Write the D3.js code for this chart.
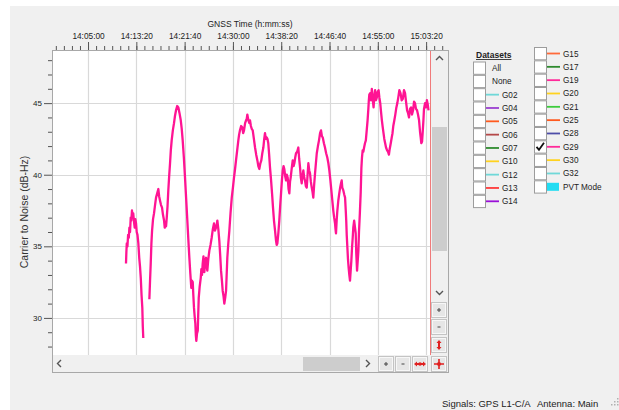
<!DOCTYPE html>
<html><head><meta charset="utf-8">
<script src="https://cdn.jsdelivr.net/npm/d3@7"></script>
<style>
body{margin:0;background:#fff}
svg{display:block}
text{font-family:"Liberation Sans",Arial,sans-serif}
</style>
</head><body>
<svg id="c" width="619" height="410"></svg>
<script>
// ---- data: seconds since 14:00:00 and C/N0 (dB-Hz) of G29 ----
const timeSec = [
  693,697,701,708,715,722,728,735,742,748,755,762,768,776,783,790,797,804,812,821,830,838,846,854,862,867,872,
  900,
  935,942,949,956,963,973,983,994,1004,1016,1028,1036,1045,1055,1066,1076,1087,1094,1100,1108,1115,1123,1131,1140,1149,1157,1166,1178,1190,1200,1211,1223,1235,1247,1260,1270,1280,1292,1304,1316,1328,1339,1349,1359,1369,1376,1384,1390,1397,1404,1411,1416,1421,1428,1436,1441,1446,1456,1467,1473,1480,1487,1495,1504,1513,1522,1528,1535,1545,1556,1568,1580,1592,1604,1614,1625,1632,1639,1649,1659,1668,1677,1686,1694,1703,1711,1720,1729,1742,1752,1763,1775,1788,1800,1811,1822,1832,1844,1856,1864,1873,1885,1897,1906,1915,1926,1936,1943,1949,1960,1970,1977,1986,1995,2005,2017,2029,2041,2053,2063,2073,2084,2094,2104,2115,2124,2132,2141,2150,2158,2166,2175,2184,2195,2205,2215,2225,2236,2246,2253,2260,2270,2280,2289,2298,2307,2316,2324,2332,2341,2350,2358,2367,2376,2384,2391,2398,2408,2419,2428,2436,2445,2453,2465,2477,2486,2495,2503,2512,2520,2529,2538,2546,2555,2564,2573,2581,2590,2598,2607,2616,2624,2632,2641,2650,2659,2668,2680,2691,2702,2712,2721,2730,2742,2753,2765,2777,2788,2798,2809,2819,2829,2839,2848,2857,2862,2867,2874,2881,2891,2901,2910,2919,2926,2932,2943,2953,2961,2968,2973,2978,2985,2991,2998,3005,3012,3019,3026,3033,3040,3046,3055,3064,3071,3077,3085,3092,3099,3105,3114,3123,3130,3136,3143,3150,3158,3167,3176,3185,3194,3202,3207,3212,3221,3230,3238,3247,3256,3264,3272,3281,3290,3299,3308,3316,3325,3333,3342,3351,3359,3367,3376,3385,3396,3406,3415,3423,3434,3444,3452,3460,3471,3481,3492,3502,3512,3523,3535,3547,3559,3571,3582,3592,3603,3613,3623,3633,3644,3654,3665,3675,3685,3695,3706,3716,3727,3737,3744,3750,3758,3765,3772,3778,3789,3799,3808,3817,3825,3833
];
const cn0 = [
  33.8,34.6,35.2,35.0,35.8,35.6,36.3,36.0,37.0,36.8,37.5,37.0,37.3,36.7,36.3,36.9,36.6,36.0,35.8,35.2,34.2,33.6,32.8,31.6,30.7,29.4,28.6,
  null,
  31.3,32.6,33.8,35.2,36.1,36.9,37.3,37.9,38.4,38.7,39.0,38.5,38.2,37.9,37.7,37.2,36.8,36.3,36.5,36.4,37.0,37.8,38.9,39.9,40.8,41.7,42.4,43.1,43.6,44.1,44.5,44.8,44.7,44.3,43.8,43.2,42.4,41.2,39.8,38.3,36.8,35.4,34.2,33.1,32.1,32.6,32.5,31.6,30.7,30.1,29.6,28.8,28.4,28.9,29.1,30.3,31.4,32.2,32.8,33.4,33.0,33.8,34.3,33.2,33.9,34.2,33.6,33.3,34.1,34.7,35.1,35.6,36.2,36.6,36.1,36.3,36.5,36.8,36.2,35.4,34.4,33.3,32.6,31.9,31.5,31.0,31.4,31.9,34.2,35.2,36.1,37.3,38.4,39.1,39.8,40.4,41.0,41.7,42.4,42.8,43.1,43.4,43.3,42.9,43.1,43.6,43.8,43.9,44.2,43.8,43.6,43.8,43.4,43.2,43.1,42.5,41.9,41.4,41.0,40.6,40.4,40.8,41.0,41.5,41.9,42.5,42.9,42.5,42.6,42.5,42.2,41.4,40.5,39.6,38.7,37.7,36.8,36.1,35.4,35.1,35.2,35.9,36.8,37.8,38.7,39.6,40.3,40.6,40.4,39.9,39.6,40.0,39.8,39.0,38.7,39.5,39.8,40.4,41.0,40.6,40.8,41.2,41.5,41.6,41.9,41.1,40.5,39.8,39.4,39.9,40.3,39.8,39.6,39.2,39.1,40.0,40.8,40.3,40.1,39.5,39.1,38.8,38.4,39.3,40.1,40.8,41.5,42.0,42.4,42.9,43.1,42.7,42.6,42.2,41.9,41.5,41.2,40.8,40.3,39.6,38.9,38.2,37.5,37.0,36.6,36.2,35.9,36.8,37.5,38.2,38.7,39.1,39.4,39.6,39.1,38.9,38.6,38.4,37.5,36.8,35.8,34.9,34.1,33.5,33.0,32.6,33.3,34.0,34.9,35.6,36.3,36.8,36.3,35.9,34.5,33.3,34.0,34.7,36.0,37.3,38.8,40.5,41.2,41.7,41.6,41.9,42.2,42.4,43.1,43.8,44.6,45.2,45.6,45.7,45.2,46.0,45.3,44.7,45.5,45.9,45.2,45.4,45.8,45.9,45.4,45.0,44.4,43.8,43.3,42.9,42.5,42.2,41.9,41.7,41.6,41.4,41.8,42.2,42.6,42.9,43.4,43.8,44.2,44.7,45.0,45.4,45.9,45.7,45.2,45.3,45.9,45.7,45.1,44.5,44.3,44.0,44.6,44.7,44.2,44.5,45.1,45.0,44.6,44.5,44.2,43.8,43.0,42.6,42.2,42.3,43.0,43.8,44.6,45.0,44.7,45.2,44.9,44.5
];
const xTickLabels = ["14:05:00","14:13:20","14:21:40","14:30:00","14:38:20","14:46:40","14:55:00","15:03:20"];
const yTicks = [30, 35, 40, 45];
const cursorTime = 3835;
const legendCol1 = ["All","None","G02","G04","G05","G06","G07","G10","G12","G13","G14"];
const legendCol1Colors = [null,null,"#6fd8d8","#9a3fd0","#ff5a1f","#b54848","#2e8b2e","#ffd21f","#6fd8d8","#ff3a3a","#9a10d8"];
const legendCol2 = ["G15","G17","G19","G20","G21","G25","G28","G29","G30","G32","PVT Mode"];
const legendCol2Colors = ["#ff6a3a","#2e8b2e","#ff2a9a","#ffd21f","#3ccc3c","#ff5a1f","#4d4da8","#ff2a9a","#ffd21f","#6fd8d8","#22dcf2"];
const checkedSeries = "G29";
const seriesColor = "#ff1493";

// ---- layout ----
const svg = d3.select("#c");
const W = 619, H = 410;
const L = 52, T = 50, R = 430, B = 355;    // plot area
const frameR = 448, frameB = 372;

const toSec = s => { const p = s.split(":").map(Number); return (p[0]-14)*3600 + p[1]*60 + p[2]; };
const xTickValues = xTickLabels.map(toSec);

const x = d3.scaleLinear().domain([-73, 3835]).range([L, 429.5]);
const y = d3.scaleLinear().domain([48.71, 27.41]).range([T, B]);

// backgrounds
svg.append("rect").attr("width", W).attr("height", H).attr("fill", "#fff");
svg.append("rect").attr("x", 10).attr("y", 6).attr("width", W-10).attr("height", H-6).attr("fill", "#f0f0f0");
svg.append("rect").attr("x", L).attr("y", T).attr("width", R-L).attr("height", B-T).attr("fill", "#fff");

// grid
const g = svg.append("g");
g.selectAll("line.vg").data(xTickValues).join("line")
  .attr("x1", d => Math.round(x(d)) + 0.5).attr("x2", d => Math.round(x(d)) + 0.5)
  .attr("y1", T).attr("y2", B).attr("stroke", "#d9d9d9").attr("stroke-width", 1.2);
g.selectAll("line.hg").data(yTicks).join("line")
  .attr("x1", L).attr("x2", R)
  .attr("y1", d => Math.round(y(d)) + 0.5).attr("y2", d => Math.round(y(d)) + 0.5)
  .attr("stroke", "#d9d9d9").attr("stroke-width", 1.2);

// series line
const pts = timeSec.map((t, i) => [t, cn0[i]]);
const line = d3.line().defined(d => d[1] != null).x(d => x(d[0])).y(d => y(d[1]));
svg.append("path").datum(pts).attr("d", line)
  .attr("fill", "none").attr("stroke", seriesColor).attr("stroke-width", 2.3)
  .attr("stroke-linejoin", "round");

// cursor line
svg.append("line").attr("x1", Math.round(x(cursorTime)) + 0.5).attr("x2", Math.round(x(cursorTime)) + 0.5)
  .attr("y1", T).attr("y2", B).attr("stroke", "#f07a7a").attr("stroke-width", 1);

// top axis: minor ticks
const minorStep = 500/6;
const minorVals = d3.range(-6, 60).map(k => 300 + k*minorStep).filter(v => x(v) >= L+3 && x(v) <= 447);
const axMinor = d3.axisTop(x).tickValues(minorVals).tickSize(4).tickFormat("");
const gMin = svg.append("g").attr("transform", `translate(0,${T})`).call(axMinor);
gMin.select(".domain").remove();
gMin.selectAll("line").attr("stroke", "#555");
const axMajor = d3.axisTop(x).tickValues(xTickValues).tickSize(8).tickPadding(3)
  .tickFormat((d, i) => xTickLabels[i]);
const gMaj = svg.append("g").attr("transform", `translate(0,${T})`).call(axMajor);
gMaj.select(".domain").remove();
gMaj.selectAll("line").attr("stroke", "#555");
gMaj.selectAll("text").attr("font-size", "8.3px").attr("fill", "#222")
  .attr("font-family", "'Liberation Sans',Arial,sans-serif");
svg.append("text").attr("x", 250).attr("y", 27).attr("text-anchor", "middle")
  .attr("font-size", "8.5px").attr("fill", "#222").text("GNSS Time (h:mm:ss)");

// left axis
const yMinorVals = d3.range(28, 49).filter(v => v % 5 !== 0);
const ayMin = d3.axisLeft(y).tickValues(yMinorVals).tickSize(4).tickFormat("");
const gyMin = svg.append("g").attr("transform", `translate(${L},0)`).call(ayMin);
gyMin.select(".domain").remove();
gyMin.selectAll("line").attr("stroke", "#555");
const ayMaj = d3.axisLeft(y).tickValues(yTicks).tickSize(8).tickPadding(2);
const gyMaj = svg.append("g").attr("transform", `translate(${L},0)`).call(ayMaj);
gyMaj.select(".domain").remove();
gyMaj.selectAll("line").attr("stroke", "#555");
gyMaj.selectAll("text").attr("font-size", "8px").attr("fill", "#222")
  .attr("font-family", "'Liberation Sans',Arial,sans-serif");
svg.append("text").attr("transform", "translate(28,212) rotate(-90)").attr("text-anchor", "middle")
  .attr("font-size", "10.5px").attr("fill", "#333").text("Carrier to Noise (dB-Hz)");

// scrollbars
const sb = svg.append("g");
sb.append("rect").attr("x", R+1).attr("y", T).attr("width", frameR-R-1).attr("height", frameB-T).attr("fill", "#f0f0f0");
sb.append("rect").attr("x", L).attr("y", B).attr("width", R-L).attr("height", frameB-B).attr("fill", "#f0f0f0");
sb.append("rect").attr("x", 432).attr("y", 127).attr("width", 15).attr("height", 124).attr("fill", "#cdcdcd");
sb.append("rect").attr("x", 303).attr("y", 357).attr("width", 57).attr("height", 14).attr("fill", "#cdcdcd");
sb.append("path").attr("d", "M436,60 L439.5,56.5 L443,60").attr("fill", "none").attr("stroke", "#555").attr("stroke-width", 1.4);
sb.append("path").attr("d", "M436,291 L439.5,294.5 L443,291").attr("fill", "none").attr("stroke", "#555").attr("stroke-width", 1.4);
sb.append("path").attr("d", "M61,360 L57.5,363.5 L61,367").attr("fill", "none").attr("stroke", "#555").attr("stroke-width", 1.4);
sb.append("path").attr("d", "M366,360 L369.5,363.5 L366,367").attr("fill", "none").attr("stroke", "#555").attr("stroke-width", 1.4);

function button(bx, by, kind) {
  const b = sb.append("g");
  b.append("rect").attr("x", bx + 0.5).attr("y", by + 0.5).attr("width", 15).attr("height", 15)
    .attr("fill", "#e6e6e6").attr("stroke", "#c4c4c4");
  b.append("rect").attr("x", bx + 1.5).attr("y", by + 1.5).attr("width", 13).attr("height", 13)
    .attr("fill", "none").attr("stroke", "#f7f7f7");
  const cx = bx + 8, cy = by + 8;
  if (kind === "+") {
    b.append("path").attr("d", `M${cx-2},${cy}H${cx+2}M${cx},${cy-2}V${cy+2}`).attr("stroke", "#444").attr("stroke-width", 1);
  } else if (kind === "-") {
    b.append("path").attr("d", `M${cx-1.5},${cy}H${cx+1.5}`).attr("stroke", "#444").attr("stroke-width", 1);
  } else if (kind === "v") {
    b.append("path").attr("d", `M${cx},${cy-5}L${cx-2.5},${cy-2}H${cx-1}V${cy+2}H${cx-2.5}L${cx},${cy+5}L${cx+2.5},${cy+2}H${cx+1}V${cy-2}H${cx+2.5}Z`).attr("fill", "#e02020");
  } else if (kind === "h") {
    b.append("path").attr("d", `M${cx-6},${cy}L${cx-3},${cy-2.5}V${cy-1}H${cx+3}V${cy-2.5}L${cx+6},${cy}L${cx+3},${cy+2.5}V${cy+1}H${cx-3}V${cy+2.5}Z`).attr("fill", "#e02020");
    b.append("circle").attr("cx", cx).attr("cy", cy).attr("r", 1.8).attr("fill", "#e02020");
  } else if (kind === "x") {
    b.append("path").attr("d", `M${cx-5},${cy}H${cx+5}M${cx},${cy-5}V${cy+5}`).attr("stroke", "#e02020").attr("stroke-width", 1.6);
    b.append("circle").attr("cx", cx).attr("cy", cy).attr("r", 2).attr("fill", "#e02020");
  }
}
button(431, 302, "+");
button(431, 319, "-");
button(431, 337, "v");
button(378, 356, "+");
button(395, 356, "-");
button(412, 356, "h");
button(431, 356, "x");

// frame
svg.append("rect").attr("x", L + 0.5).attr("y", T + 0.5).attr("width", frameR - L).attr("height", frameB - T)
  .attr("fill", "none").attr("stroke", "#a8a8a8");

// legend
const lg = svg.append("g");
lg.append("text").attr("x", 476).attr("y", 58).attr("font-size", "8.5px").attr("font-weight", "bold")
  .attr("fill", "#222").attr("text-decoration", "underline").text("Datasets");
function legendCol(names, colors, bx, top, plain) {
  names.forEach((n, i) => {
    const by = top + i * 13.33;
    const cy = by + 6.5;
    lg.append("rect").attr("x", bx + 0.5).attr("y", by + 0.5).attr("width", 12).attr("height", 12.3)
      .attr("fill", "#fff").attr("stroke", "#9c9c9c");
    const c = colors[i];
    let tx = plain.includes(n) ? bx + 19 : bx + 29;
    if (c) {
      if (n === "PVT Mode") {
        lg.append("rect").attr("x", bx + 13).attr("y", cy - 4).attr("width", 12).attr("height", 8).attr("fill", c);
      } else {
        lg.append("line").attr("x1", bx + 13).attr("x2", bx + 26).attr("y1", cy).attr("y2", cy)
          .attr("stroke", c).attr("stroke-width", 1.8);
      }
    }
    lg.append("text").attr("x", tx).attr("y", cy + 3).attr("font-size", "8.2px").attr("fill", "#222").text(n);
    if (n === checkedSeries) {
      lg.append("path").attr("d", `M${bx+2.5},${cy}L${bx+5},${cy+3}L${bx+10},${cy-4}`)
        .attr("fill", "none").attr("stroke", "#111").attr("stroke-width", 1.8);
    }
  });
}
legendCol(legendCol1, legendCol1Colors, 473, 61.5, ["All", "None"]);
legendCol(legendCol2, legendCol2Colors, 534, 47, []);

// status bar
svg.append("text").attr("x", 442).attr("y", 407).attr("font-size", "9.5px").attr("fill", "#222").text("Signals: GPS L1-C/A");
svg.append("text").attr("x", 537).attr("y", 407).attr("font-size", "9.5px").attr("fill", "#222").text("Antenna: Main");
[[612,405],[615,405],[615,402],[618,405],[618,402],[618,399]].forEach(p =>
  svg.append("rect").attr("x", p[0]-1).attr("y", p[1]-1).attr("width", 1.5).attr("height", 1.5).attr("fill", "#b0b0b0"));
</script>
</body></html>
